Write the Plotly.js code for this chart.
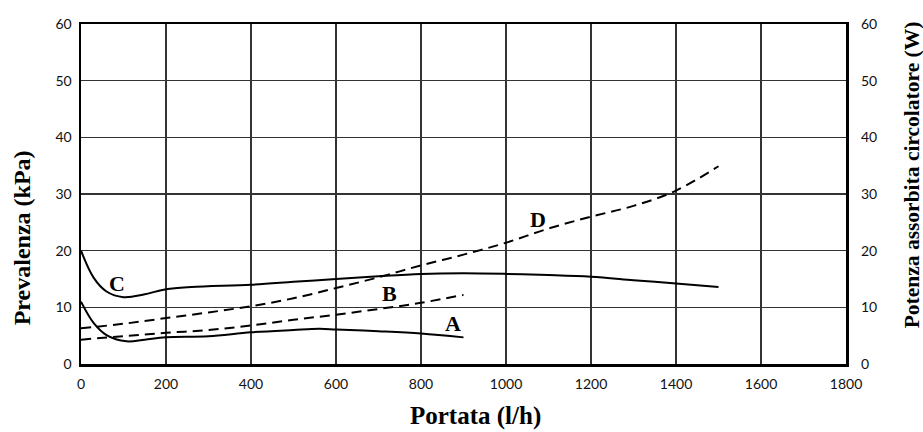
<!DOCTYPE html>
<html><head><meta charset="utf-8">
<script src="https://cdn.plot.ly/plotly-3.0.1.min.js"></script>
<style>html,body{margin:0;padding:0;background:#fff}#chart{width:923px;height:432px}</style>
</head><body><div id="chart"></div>
<script>
// Data
const cX = [0, 30, 60, 100, 150, 200, 260, 400, 500, 600, 700, 800, 900, 1000, 1100, 1200, 1300, 1400, 1500];
const cY = [20, 15.2, 12.8, 11.8, 12.3, 13.2, 13.6, 14.0, 14.5, 15.0, 15.5, 15.9, 16.0, 15.9, 15.7, 15.4, 14.8, 14.2, 13.6];
const aX = [0, 30, 60, 107, 150, 200, 300, 400, 500, 560, 600, 700, 800, 900];
const aY = [11.0, 7.2, 5.1, 4.0, 4.3, 4.7, 4.9, 5.6, 6.0, 6.2, 6.1, 5.8, 5.4, 4.7];
const bX = [0, 100, 200, 300, 400, 500, 600, 700, 800, 900];
const bY = [4.3, 4.9, 5.5, 6.0, 6.8, 7.8, 8.7, 9.7, 10.8, 12.2];
const dX = [0, 100, 200, 300, 400, 500, 600, 700, 800, 900, 1000, 1100, 1200, 1300, 1400, 1500];
const dY = [6.3, 7.1, 8.1, 9.1, 10.2, 11.6, 13.4, 15.3, 17.4, 19.3, 21.4, 23.9, 26.0, 27.9, 30.6, 34.9];
const labelText = ["C", "B", "A", "D"];
const labelX = [85, 727, 876, 1076];
const labelY = [14.2, 12.5, 7.2, 25.5];
const xTicks = [0, 200, 400, 600, 800, 1000, 1200, 1400, 1600, 1800];
const yTicks = [0, 10, 20, 30, 40, 50, 60];
const xTitle = 'Portata (l/h)';
const yTitle = 'Prevalenza (kPa)';
const y2Title = 'Potenza assorbita circolatore (W)';

const solid = {color: '#000', width: 2, shape: 'spline', smoothing: 1};
const dashed = {color: '#000', width: 2, dash: '10px,6px', shape: 'spline', smoothing: 1};
const traces = [
  {x: cX, y: cY, mode: 'lines', line: solid, name: 'C'},
  {x: aX, y: aY, mode: 'lines', line: solid, name: 'A'},
  {x: bX, y: bY, mode: 'lines', line: dashed, name: 'B'},
  {x: dX, y: dY, mode: 'lines', line: dashed, name: 'D'},
  {x: [0, 1800], y: [0, 60], yaxis: 'y2', mode: 'markers', marker: {opacity: 0}, hoverinfo: 'skip', showlegend: false}
];
const serif = 'Liberation Serif, Times New Roman, serif';
const tickFont = {family: 'Lato', size: 14, color: '#111'};
const tf = (s) => ({family: serif, size: s, color: '#000', weight: 700});
const annots = labelText.map((t, i) => ({
  x: labelX[i], y: labelY[i], xref: 'x', yref: 'y', text: t,
  showarrow: false, font: tf(22)
}));
annots.push(
  {text: xTitle, xref: 'paper', yref: 'paper', x: 0.516, y: -0.153, showarrow: false, font: tf(25), xanchor: 'center', yanchor: 'middle'},
  {text: yTitle, xref: 'paper', yref: 'paper', x: -0.077, y: 0.37, textangle: -90, showarrow: false, font: tf(24), xanchor: 'center', yanchor: 'middle'},
  {text: y2Title, xref: 'paper', yref: 'paper', x: 1.0863, y: 0.555, textangle: -90, showarrow: false, font: tf(21.5), xanchor: 'center', yanchor: 'middle'}
);
const layout = {
  width: 923, height: 432,
  font: {family: serif, color: '#000'},
  margin: {l: 81, r: 77, t: 24, b: 68},
  paper_bgcolor: '#fff', plot_bgcolor: '#fff',
  showlegend: false,
  xaxis: {
    range: [0, 1800], tickvals: xTicks, ticktext: xTicks.map(String),
    showgrid: true, gridcolor: '#333', gridwidth: 1.2,
    showline: true, linecolor: '#000', linewidth: 2.5, mirror: true,
    zeroline: false, ticks: '', tickfont: tickFont, ticklabelstandoff: 6
  },
  yaxis: {
    range: [0, 60], tickvals: yTicks, ticktext: yTicks.map(String),
    showgrid: true, gridcolor: '#333', gridwidth: 1.2,
    showline: true, linecolor: '#000', linewidth: 2.5, mirror: true,
    zeroline: false, ticks: '', tickfont: tickFont, ticklabelstandoff: 4
  },
  yaxis2: {
    overlaying: 'y', side: 'right', range: [0, 60],
    tickvals: yTicks, ticktext: yTicks.map(String),
    showgrid: false, zeroline: false, ticks: '', tickfont: tickFont, ticklabelstandoff: 14
  },
  annotations: annots
};
Plotly.newPlot('chart', traces, layout, {displayModeBar: false, staticPlot: true});
</script></body></html>
